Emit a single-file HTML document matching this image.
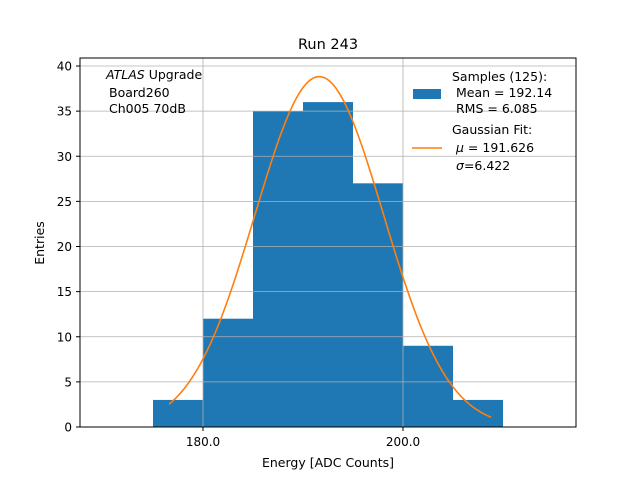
<!DOCTYPE html>
<html><head><meta charset="utf-8"><style>
body{margin:0;background:#fff;}
svg{display:block;font-family:"DejaVu Sans","Liberation Sans",sans-serif;}
</style></head><body>
<svg id="chart" width="640" height="480">
<rect width="640" height="480" fill="#fff"/>
<text x="328" y="49" font-size="14.5" text-anchor="middle">Run 243</text>
<g id="bars"></g>
<g id="grid"></g>
<path id="fit" fill="none" stroke="#ff7f0e" stroke-width="1.6"/>
<rect x="80" y="58" width="496" height="369" fill="none" stroke="#000" stroke-width="1"/>
<g id="ticks" font-size="12"></g>
<text x="328" y="467" font-size="12.5" text-anchor="middle">Energy [ADC Counts]</text>
<text transform="translate(44,243) rotate(-90)" font-size="12.5" text-anchor="middle">Entries</text>
<g font-size="12.5">
<text x="106" y="79"><tspan font-style="italic">ATLAS</tspan> Upgrade</text>
<text x="109" y="97">Board260</text>
<text x="109" y="113">Ch005 70dB</text>
</g>
<g font-size="12.5">
<rect x="413" y="89" width="28" height="10" fill="#1f77b4"/>
<text x="452" y="81">Samples (125):</text>
<text x="456" y="97">Mean = 192.14</text>
<text x="456" y="113">RMS = 6.085</text>
<line x1="412" y1="148" x2="442" y2="148" stroke="#ff7f0e" stroke-width="1.6"/>
<text x="452" y="134">Gaussian Fit:</text>
<text x="456" y="152"><tspan font-style="italic">μ</tspan> = 191.626</text>
<text x="456" y="170"><tspan font-style="italic">σ</tspan>=6.422</text>
</g>
</svg>
<script>
const binEdges=[175,180,185,190,195,200,205,210];
const counts=[3,12,35,36,27,9,3];
const xTicks=[180,200];
const xTickLabels=["180.0","200.0"];
const yTicks=[0,5,10,15,20,25,30,35,40];
const fitMu=191.626, fitSigma=6.422, fitN=125, fitBin=5;
const fitRange=[176.6,208.8];
const X=v=>203+(v-180)*10, Y=v=>427-v*9.025;
const NS="http://www.w3.org/2000/svg";
function mk(t,a,p){const e=document.createElementNS(NS,t);for(const k in a)e.setAttribute(k,a[k]);p.appendChild(e);return e;}
const bars=document.getElementById('bars');
counts.forEach((c,i)=>{
 const r=mk('rect',{x:X(binEdges[i]),y:Y(c),width:X(binEdges[i+1])-X(binEdges[i]),height:Y(0)-Y(c),fill:'#1f77b4'},bars);
 
 
});
const grid=document.getElementById('grid'),ticks=document.getElementById('ticks');
xTicks.forEach((t,i)=>{
 const g=mk('line',{x1:X(t),x2:X(t),y1:58,y2:427,stroke:'#b0b0b0','stroke-width':0.8},grid);
 
 
 mk('line',{x1:X(t),x2:X(t),y1:427,y2:431,stroke:'#000'},ticks);
 const tx=mk('text',{x:X(t),y:446,'text-anchor':'middle'},ticks);tx.textContent=xTickLabels[i];
 
 
});
yTicks.forEach(t=>{
 const g=mk('line',{x1:80,x2:576,y1:Y(t),y2:Y(t),stroke:'#b0b0b0','stroke-width':0.8},grid);
 
 
 mk('line',{x1:76,x2:80,y1:Y(t),y2:Y(t),stroke:'#000'},ticks);
 const tx=mk('text',{x:72,y:Y(t)+4.5,'text-anchor':'end'},ticks);tx.textContent=t;
 
 
});
const A=fitN*fitBin/(fitSigma*Math.sqrt(2*Math.PI));
let d='';
for(let i=0;i<=200;i++){const v=fitRange[0]+(fitRange[1]-fitRange[0])*i/200;
 const y=A*Math.exp(-0.5*((v-fitMu)/fitSigma)**2);
 d+=(i?'L':'M')+X(v).toFixed(2)+','+Y(y).toFixed(2);}
document.getElementById('fit').setAttribute('d',d);
</script>
</body></html>
